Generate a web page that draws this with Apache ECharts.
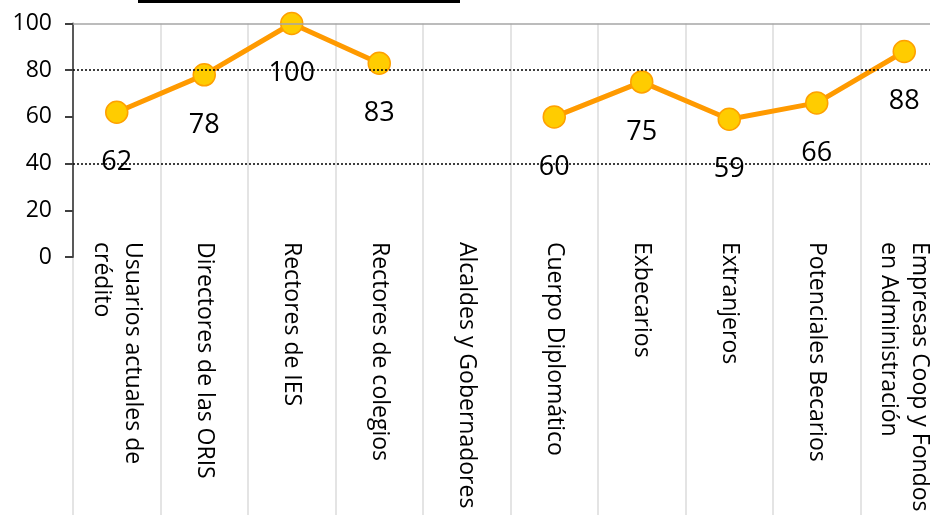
<!DOCTYPE html>
<html>
<head>
<meta charset="utf-8">
<script src="https://cdn.jsdelivr.net/npm/echarts@6/dist/echarts.min.js"></script>
<style>
  html, body { margin: 0; padding: 0; background: #fff; overflow: hidden; width: 930px; height: 522px; }
  #chart { width: 960px; height: 522px; }
</style>
</head>
<body>
<div id="chart"></div>
<script>
const categories = [
  'Usuarios actuales de\ncrédito',
  'Directores de las ORIS',
  'Rectores de IES',
  'Rectores de colegios',
  'Alcaldes y Gobernadores',
  'Cuerpo Diplomático',
  'Exbecarios',
  'Extranjeros',
  'Potenciales Becarios',
  'Empresas Coop y Fondos\nen Administración'
];
const values = [62, 78, 100, 83, null, 60, 75, 59, 66, 88];
const yMin = 0;
const yMax = 100;
const yInterval = 20;
const dottedLevels = [80, 40];
const topLevel = 100;

const FONT = 'Open Sans';
const sepColor = '#e4e4e4';

const chart = echarts.init(document.getElementById('chart'), null, { renderer: 'canvas' });

const markData = dottedLevels.map(v => ({
  yAxis: v,
  lineStyle: { color: '#000', type: [2, 2], width: 1.5 }
}));
markData.push({ yAxis: topLevel, lineStyle: { color: '#a6a6a6', type: 'solid', width: 1.5 } });

chart.setOption({
  animation: false,
  backgroundColor: '#ffffff',
  graphic: [
    { type: 'rect', left: 138, top: 0, shape: { width: 322, height: 3 }, style: { fill: '#000' }, silent: true }
  ],
  grid: { left: 73, top: 23.5, width: 875, height: 233.5, containLabel: false },
  xAxis: {
    type: 'category',
    data: categories,
    boundaryGap: true,
    z: 3,
    axisLine: { show: false },
    axisTick: { show: true, interval: 0, length: 258, lineStyle: { color: sepColor, width: 2 } },
    splitLine: { show: true, interval: 0, lineStyle: { color: sepColor, width: 2 } },
    axisLabel: {
      interval: 0, rotate: -90, margin: -15,
      padding: [8, 0, 0, 0],
      fontFamily: FONT, fontSize: 23, color: '#000', lineHeight: 31
    }
  },
  yAxis: {
    type: 'value',
    min: yMin, max: yMax, interval: yInterval,
    z: 4,
    axisLine: { show: true, lineStyle: { color: '#595959', width: 2 } },
    axisTick: { show: true, length: 8, lineStyle: { color: '#404040', width: 2 } },
    splitLine: { show: false },
    axisLabel: { fontFamily: FONT, fontSize: 23, color: '#000', margin: 21 }
  },
  series: [{
    type: 'line',
    data: values,
    connectNulls: false,
    symbol: 'circle',
    symbolSize: 22,
    lineStyle: { color: '#FF9A00', width: 5 },
    itemStyle: { color: '#FFCC00', borderColor: '#FFA000', borderWidth: 1.5 },
    label: {
      show: true, position: 'inside', offset: [0, 50],
      fontFamily: FONT, fontSize: 27, color: '#000'
    },
    markLine: {
      silent: true,
      symbol: ['none', 'none'],
      label: { show: false },
      emphasis: { disabled: true },
      data: markData
    }
  }]
});
</script>
</body>
</html>
